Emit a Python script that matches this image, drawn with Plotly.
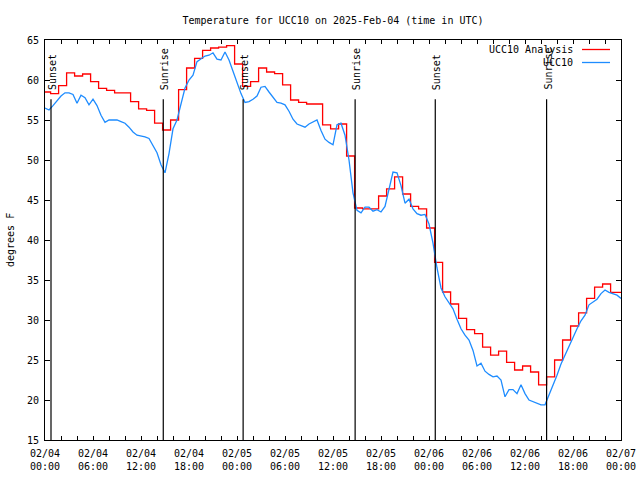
import plotly.graph_objects as go
import pandas as pd

# ---------------- data ----------------
title_text = "Temperature for UCC10 on 2025-Feb-04 (time in UTC)"
y_label = "degrees F"
series_names = ["UCC10 Analysis", "UCC10"]

# Observation (UCC10), every 30 minutes from 02/04 00:00 to 02/07 00:00
obs_start = "2025-02-04 00:00"
obs_values = [
    56.5, 56.25, 56.8, 57.4, 58.0, 58.4, 58.4, 58.2, 57.1, 58.1,
    57.8, 56.9, 57.6, 56.8, 55.6, 54.7, 55.0, 55.0, 55.0, 54.8,
    54.6, 54.1, 53.5, 53.1, 53.0, 52.9, 52.7, 51.8, 50.9, 49.4,
    48.4, 50.8, 53.9, 55.0, 56.9, 59.0, 60.0, 60.6, 62.3, 62.7,
    63.0, 63.1, 63.4, 62.6, 62.5, 63.5, 62.5, 61.1, 59.7, 58.3,
    57.2, 57.3, 57.6, 58.0, 59.1, 59.2, 58.5, 57.9, 57.2, 57.1,
    56.9, 56.1, 55.1, 54.5, 54.3, 54.1, 54.5, 54.8, 55.0, 53.7,
    52.6, 52.2, 51.9, 54.4, 54.6, 53.1, 50.0, 45.9, 43.7, 43.4,
    44.1, 44.1, 43.6, 43.8, 43.5, 44.2, 46.5, 48.5, 48.4, 46.8,
    44.6, 45.1, 43.9, 43.3, 43.1, 43.2, 42.0, 39.6, 36.5, 34.0,
    32.9, 32.2, 31.4, 30.1, 28.9, 28.1, 27.5, 26.2, 24.25, 24.6,
    23.6, 23.2, 22.9, 23.0, 22.5, 20.4, 21.3, 21.3, 20.8, 21.9,
    20.8, 20.0, 19.8, 19.5, 19.4, 19.4, 20.6, 21.8, 23.1, 24.5,
    25.6, 26.9, 28.0, 28.9, 29.9, 30.6, 31.9, 32.2, 32.6, 33.3,
    33.75, 33.45, 33.3, 33.1, 32.7,
]

# Analysis (UCC10 Analysis), hourly steps starting 02/03 23:42
ana_start = "2025-02-03 23:42"
ana_values = [
    58.5, 58.3, 59.3, 60.9, 60.5, 60.75, 59.8, 58.96, 58.7, 58.4,
    58.4, 57.3, 56.4, 56.2, 54.6, 53.75, 55.0, 58.8, 61.5, 62.7,
    63.7, 64.0, 64.1, 64.3, 62.0, 59.2, 59.8, 61.5, 61.0, 60.8,
    59.4, 57.5, 57.2, 57.0, 57.0, 54.4, 53.9, 54.5, 50.5, 44.0,
    43.9, 43.9, 45.5, 46.4, 47.9, 45.75, 44.2, 43.9, 41.5, 37.2,
    33.5, 32.0, 30.2, 28.8, 28.3, 26.6, 25.6, 26.1, 24.7, 23.75,
    24.25, 23.5, 21.9, 22.9, 25.0, 27.5, 29.25, 30.9, 32.7, 34.1,
    34.5, 33.45, 33.45, 33.45,
]

# Sun events
sun_times = ["2025-02-04 00:45", "2025-02-04 14:47", "2025-02-05 00:46",
             "2025-02-05 14:46", "2025-02-06 00:47", "2025-02-06 14:42"]
sun_labels = ["Sunset", "Sunrise", "Sunset", "Sunrise", "Sunset", "Sunrise"]

# Axis ticks
x_tick_vals = ["2025-02-04 00:00", "2025-02-04 06:00", "2025-02-04 12:00", "2025-02-04 18:00",
               "2025-02-05 00:00", "2025-02-05 06:00", "2025-02-05 12:00", "2025-02-05 18:00",
               "2025-02-06 00:00", "2025-02-06 06:00", "2025-02-06 12:00", "2025-02-06 18:00",
               "2025-02-07 00:00"]
x_tick_text = ["02/04<br>00:00", "02/04<br>06:00", "02/04<br>12:00", "02/04<br>18:00",
               "02/05<br>00:00", "02/05<br>06:00", "02/05<br>12:00", "02/05<br>18:00",
               "02/06<br>00:00", "02/06<br>06:00", "02/06<br>12:00", "02/06<br>18:00",
               "02/07<br>00:00"]
y_tick_vals = [15, 20, 25, 30, 35, 40, 45, 50, 55, 60, 65]

# ---------------- figure ----------------
FONT = "DejaVu Sans Mono"
RED = "#ff0000"
BLUE = "#1e8cff"

obs_times = pd.date_range(obs_start, periods=len(obs_values), freq="30min")
ana_times = pd.date_range(ana_start, periods=len(ana_values), freq="1h")

fig = go.Figure()
fig.add_trace(go.Scatter(x=ana_times, y=ana_values, mode="lines", name=series_names[0],
                         line=dict(color=RED, width=1.3, shape="hv"), showlegend=False))
fig.add_trace(go.Scatter(x=obs_times, y=obs_values, mode="lines", name=series_names[1],
                         line=dict(color=BLUE, width=1.3), showlegend=False))

for t, lab in zip(sun_times, sun_labels):
    fig.add_shape(type="line", x0=t, x1=t, y0=15, y1=57.6, xref="x", yref="y",
                  line=dict(color="black", width=1.2))
    fig.add_annotation(x=t, y=58.5, xref="x", yref="y", text=lab, textangle=-90,
                       showarrow=False, xanchor="center", yanchor="bottom", xshift=1,
                       font=dict(family=FONT, size=10, color="black"))

# legend (gnuplot style: text then sample line)
legend_rows = [(series_names[0], RED, 49.5), (series_names[1], BLUE, 62.5)]
for name, col, ypix in legend_rows:
    yp = 1 - (ypix - 40) / 400
    fig.add_annotation(x=(575 - 45) / 576, y=yp, xref="paper", yref="paper", text=name,
                       showarrow=False, xanchor="right", yanchor="middle",
                       font=dict(family=FONT, size=10, color="black"))
    fig.add_shape(type="line", x0=(582 - 45) / 576, x1=(610 - 45) / 576, y0=yp, y1=yp,
                  xref="paper", yref="paper", line=dict(color=col, width=1.3))

# y axis label
fig.add_annotation(x=(10 - 45) / 576, y=0.5, xref="paper", yref="paper", text=y_label,
                   textangle=-90, showarrow=False, xanchor="center", yanchor="middle",
                   font=dict(family=FONT, size=10, color="black"))

fig.update_layout(
    width=640, height=480,
    margin=dict(l=45, r=19, t=40, b=40, autoexpand=False),
    paper_bgcolor="white", plot_bgcolor="white",
    font=dict(family=FONT, size=10, color="black"),
    title=dict(text=title_text, x=0.5, xref="paper", y=1 - 20 / 480, yref="container",
               xanchor="center", yanchor="middle",
               font=dict(family=FONT, size=10, color="black")),
    showlegend=False,
)
fig.update_xaxes(
    type="date", range=["2025-02-04 00:00", "2025-02-07 00:00"],
    tickvals=x_tick_vals, ticktext=x_tick_text,
    ticks="inside", ticklen=4, tickcolor="black", tickwidth=1,
    minor=dict(dtick=2 * 3600 * 1000, ticks="inside", ticklen=4, tickcolor="black", showgrid=False),
    showline=True, linecolor="black", linewidth=1, mirror="ticks",
    showgrid=False, zeroline=False, ticklabelstandoff=4,
)
fig.update_yaxes(
    range=[15, 65], tickvals=y_tick_vals,
    ticks="inside", ticklen=5, tickcolor="black", tickwidth=1,
    showline=True, linecolor="black", linewidth=1, mirror="ticks",
    showgrid=False, zeroline=False, ticklabelstandoff=3,
)

fig.write_html("out.html",
               config={"displayModeBar": False},
               post_script="document.body.style.margin='0';document.body.style.padding='0';")
